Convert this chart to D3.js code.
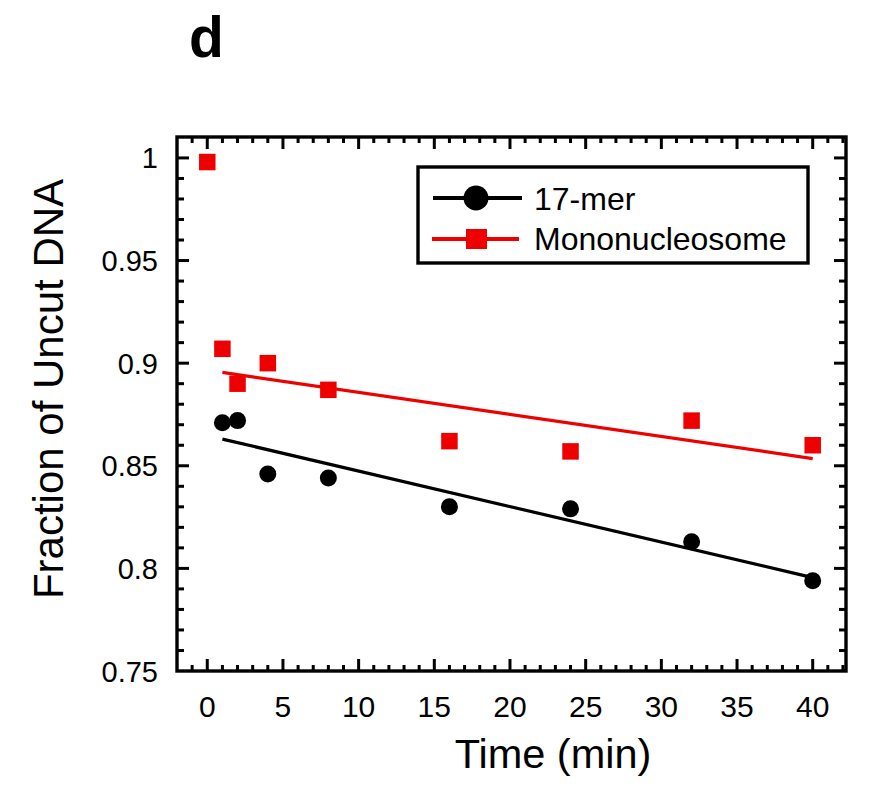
<!DOCTYPE html>
<html>
<head>
<meta charset="utf-8">
<script src="https://cdn.jsdelivr.net/npm/d3@7"></script>
<style>
  html, body { margin: 0; padding: 0; background: #fff; }
  svg { display: block; font-family: "Liberation Sans", Arial, Helvetica, sans-serif; }
</style>
</head>
<body>
<svg id="chart" width="870" height="789"></svg>
<script>
// ---- data ----
const panelLabel = "d";
const xTitle = "Time (min)";
const yTitle = "Fraction of Uncut DNA";
const seriesNames = ["17-mer", "Mononucleosome"];

const time17mer = [1, 2, 4, 8, 16, 24, 32, 40];
const frac17mer = [0.871, 0.872, 0.846, 0.844, 0.830, 0.829, 0.813, 0.794];

const timeMono = [0, 1, 2, 4, 8, 16, 24, 32, 40];
const fracMono = [0.998, 0.907, 0.890, 0.900, 0.887, 0.862, 0.857, 0.872, 0.860];

// linear fit endpoints
const fitTime = [1, 40];
const fit17mer = [0.863, 0.7955];
const fitMono = [0.8955, 0.8535];

const xTickValues = [0, 5, 10, 15, 20, 25, 30, 35, 40];
const yTickValues = [0.75, 0.8, 0.85, 0.9, 0.95, 1];
const yTickLabels = ["0.75", "0.8", "0.85", "0.9", "0.95", "1"];

// ---- layout ----
const svg = d3.select("#chart");
const pL = 177, pR = 846, pT = 137, pB = 671;
const black = "#000", red = "#ee0000";

const x = d3.scaleLinear().domain([-2, 42.2]).range([pL, pR]);
const y = d3.scaleLinear().domain([0.75, 1.0102]).range([pB, pT]);

const g = svg.append("g");

// minor/major ticks (inside) on all four sides
const xMinor = d3.range(-1, 43, 1).filter(v => x(v) < pR - 1);
const yMinor = d3.range(76, 102, 1).map(v => v / 100).filter(v => y(v) > pT + 1);
const isMajorX = v => v % 5 === 0;
const isMajorY = v => Math.abs(Math.round(v * 100) % 5) === 0;

const tickG = g.append("g").attr("stroke", black).attr("stroke-width", 3);
xMinor.forEach(v => {
  const len = isMajorX(v) ? 12 : 6;
  tickG.append("line").attr("x1", x(v)).attr("x2", x(v)).attr("y1", pB).attr("y2", pB - len);
  tickG.append("line").attr("x1", x(v)).attr("x2", x(v)).attr("y1", pT).attr("y2", pT + len);
});
yMinor.forEach(v => {
  const len = isMajorY(v) ? 12 : 7;
  tickG.append("line").attr("y1", y(v)).attr("y2", y(v)).attr("x1", pL).attr("x2", pL + len);
  tickG.append("line").attr("y1", y(v)).attr("y2", y(v)).attr("x1", pR).attr("x2", pR - len);
});

// frame
g.append("rect")
  .attr("x", pL).attr("y", pT)
  .attr("width", pR - pL).attr("height", pB - pT)
  .attr("fill", "none").attr("stroke", black).attr("stroke-width", 3.4);

// tick labels
g.selectAll(".xl").data(xTickValues).enter().append("text")
  .attr("x", d => x(d)).attr("y", 717)
  .attr("text-anchor", "middle").attr("font-size", 30).text(d => d);
g.selectAll(".yl").data(yTickValues).enter().append("text")
  .attr("x", 158).attr("y", d => y(d) + 10.5)
  .attr("text-anchor", "end").attr("font-size", 29)
  .text((d, i) => yTickLabels[i]);

// axis titles
g.append("text").attr("x", 553).attr("y", 768)
  .attr("text-anchor", "middle").attr("font-size", 41.5).text(xTitle);
g.append("text")
  .attr("transform", "translate(63," + 389 + ") rotate(-90)")
  .attr("text-anchor", "middle").attr("font-size", 42).text(yTitle);

// panel label
g.append("text").attr("x", 189).attr("y", 57)
  .attr("font-size", 57).attr("font-weight", "bold").text(panelLabel);

// fit lines
const line = d3.line().x(d => x(d[0])).y(d => y(d[1]));
g.append("path").datum(fitTime.map((t, i) => [t, fitMono[i]]))
  .attr("d", line).attr("fill", "none").attr("stroke", red).attr("stroke-width", 3.2);
g.append("path").datum(fitTime.map((t, i) => [t, fit17mer[i]]))
  .attr("d", line).attr("fill", "none").attr("stroke", black).attr("stroke-width", 3.2);

// markers
const sq = 16.5;
g.selectAll(".sq").data(timeMono.map((t, i) => [t, fracMono[i]])).enter().append("rect")
  .attr("x", d => x(d[0]) - sq / 2).attr("y", d => y(d[1]) - sq / 2)
  .attr("width", sq).attr("height", sq).attr("fill", red);
g.selectAll(".ci").data(time17mer.map((t, i) => [t, frac17mer[i]])).enter().append("circle")
  .attr("cx", d => x(d[0])).attr("cy", d => y(d[1])).attr("r", 8.5).attr("fill", black);

// legend
const lg = g.append("g");
lg.append("rect").attr("x", 418).attr("y", 167).attr("width", 390).attr("height", 96)
  .attr("fill", "#fff").attr("stroke", black).attr("stroke-width", 3.4);
lg.append("line").attr("x1", 433).attr("x2", 522).attr("y1", 198).attr("y2", 198)
  .attr("stroke", black).attr("stroke-width", 4);
lg.append("circle").attr("cx", 476).attr("cy", 198).attr("r", 12.5).attr("fill", black);
lg.append("line").attr("x1", 432).attr("x2", 519).attr("y1", 239).attr("y2", 239)
  .attr("stroke", red).attr("stroke-width", 4);
lg.append("rect").attr("x", 466).attr("y", 229).attr("width", 21).attr("height", 20).attr("fill", red);
lg.append("text").attr("x", 534).attr("y", 210).attr("font-size", 32).text(seriesNames[0]);
lg.append("text").attr("x", 534).attr("y", 250).attr("font-size", 32).text(seriesNames[1]);
</script>
</body>
</html>
